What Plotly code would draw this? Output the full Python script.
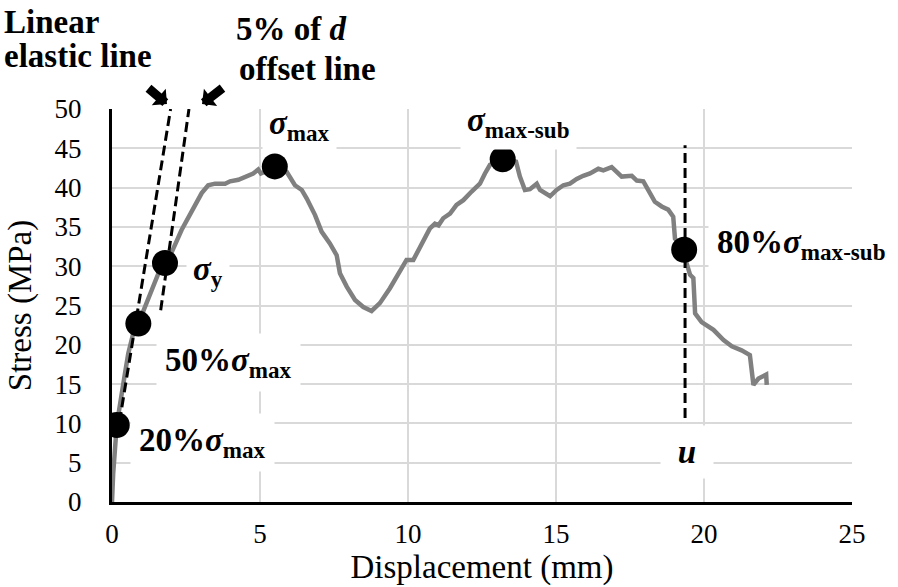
import plotly.graph_objects as go

# ---------------- data ----------------
disp = [0, 0.04, 0.16, 0.27, 0.44, 0.55, 0.72, 0.89, 1.11, 1.34, 1.57, 1.79, 2.02, 2.35, 2.69, 3.03,
        3.25, 3.48, 3.82, 3.99, 4.27, 4.49, 4.77, 4.94, 5.03, 5.28, 5.5, 5.9, 6.18, 6.41, 6.58, 6.86,
        7.08, 7.36, 7.59, 7.70, 7.93, 8.21, 8.49, 8.77, 9.05, 9.39, 9.67, 9.95, 10.18, 10.46, 10.74, 10.91,
        11.03, 11.19, 11.42, 11.64, 11.87, 12.15, 12.43, 12.60, 12.77, 13.2, 13.65, 13.78, 13.95, 14.12,
        14.35, 14.46, 14.63, 14.80, 15.02, 15.25, 15.47, 15.70, 15.92, 16.15, 16.43, 16.60, 16.88, 17.22,
        17.56, 17.73, 17.95, 18.18, 18.34, 18.57, 18.79, 18.96, 19.02, 19.33, 19.41, 19.53, 19.64, 19.70,
        19.92, 20.32, 20.66, 20.94, 21.27, 21.55, 21.60, 21.67, 21.84, 21.95, 22.10, 22.12]
stress = [0, 3.6, 9.8, 12.1, 16.4, 18.9, 21.5, 22.7, 24.8, 27.0, 29.1, 30.4, 31.8, 34.6, 37.1, 39.3,
          40.3, 40.5, 40.5, 40.8, 41.0, 41.4, 41.8, 42.3, 41.8, 42.2, 42.7, 42.0, 40.3, 39.7, 38.6, 36.5,
          34.4, 32.9, 31.4, 29.1, 27.4, 25.7, 24.8, 24.3, 25.3, 27.2, 28.9, 30.8, 30.8, 32.7, 34.8, 35.4,
          35.2, 36.1, 36.7, 37.8, 38.4, 39.5, 40.5, 41.8, 42.9, 43.6, 43.3, 41.4, 39.7, 39.8,
          40.5, 39.7, 39.3, 38.9, 39.7, 40.3, 40.5, 41.1, 41.5, 41.8, 42.4, 42.2, 42.6, 41.4,
          41.5, 40.9, 40.8, 39.3, 38.2, 37.6, 37.2, 36.3, 33.5, 32.1, 30.4, 28.9, 28.5, 24.0,
          22.9, 21.9, 20.6, 19.8, 19.3, 18.7, 17.2, 14.9, 15.7, 15.9, 16.2, 14.9]

# key points: 20%smax, 50%smax, sy, smax, smax-sub, 80%smax-sub
key_x = [0.16, 0.89, 1.79, 5.5, 13.2, 19.33]
key_y = [9.8, 22.7, 30.4, 42.7, 43.6, 32.1]

elastic_x = [0.17, 1.98]
elastic_y = [8.3, 50]
offset_x = [1.645, 2.60]
offset_y = [24.4, 50]
u_x = [19.36, 19.36]
u_y = [10.7, 45.4]

x_ticks = [0, 5, 10, 15, 20, 25]
y_ticks = [0, 5, 10, 15, 20, 25, 30, 35, 40, 45, 50]

FONT = "Liberation Serif"

fig = go.Figure()
fig.add_trace(go.Scatter(x=disp, y=stress, mode="lines",
                         line=dict(color="#808080", width=4.5), showlegend=False))
for xs, ys in [(elastic_x, elastic_y), (offset_x, offset_y), (u_x, u_y)]:
    fig.add_trace(go.Scatter(x=xs, y=ys, mode="lines",
                             line=dict(color="black", width=3, dash="10px,5px"), showlegend=False))
fig.add_trace(go.Scatter(x=key_x, y=key_y, mode="markers",
                         marker=dict(color="black", size=26), showlegend=False))

lab_font = dict(family=FONT, size=33, color="black")
labels = [
    ("<b>20%<i>σ</i><sub>max</sub></b>", 3.07, 7.6, 8),
    ("<b>50%<i>σ</i><sub>max</sub></b>", 3.92, 17.8, 8),
    ("<b><i>σ</i><sub>y</sub></b>", 3.24, 29.3, 6),
    ("<b><i>σ</i><sub>max</sub></b>", 6.35, 47.9, 6),
    ("<b><i>σ</i><sub>max-sub</sub></b>", 13.72, 48.3, 6),
    ("<b>80%<i>σ</i><sub>max-sub</sub></b>", 23.3, 32.8, 8),
]
for txt, x, y, pad in labels:
    fig.add_annotation(x=x, y=y, text=txt, showarrow=False, font=lab_font,
                       bgcolor="white", borderpad=pad, xanchor="center", yanchor="middle")
fig.add_annotation(x=19.43, y=6.4, text="<b><i>u</i></b>", showarrow=False, font=lab_font,
                   bgcolor="white", width=50, height=50)

# texts above the plot (paper coordinates)
top_font = dict(family=FONT, size=33, color="black")
top_texts = [
    ("<b>Linear</b>", -0.1486, 1.222),
    ("<b>elastic line</b>", -0.1486, 1.1349),
    ("<b>5% of <i>d</i></b>", 0.1649, 1.2036),
    ("<b>offset line</b>", 0.1689, 1.1018),
]
for txt, x, y in top_texts:
    fig.add_annotation(xref="paper", yref="paper", x=x, y=y, text=txt, showarrow=False,
                       font=top_font, xanchor="left", yanchor="middle")

# block arrows
fig.add_annotation(xref="paper", yref="paper", x=0.0743, y=1.0127, ax=-20, ay=-17, text="",
                   showarrow=True, arrowhead=1, arrowwidth=9, arrowsize=0.4, arrowcolor="black")
fig.add_annotation(xref="paper", yref="paper", x=0.1216, y=1.0127, ax=22, ay=-17, text="",
                   showarrow=True, arrowhead=1, arrowwidth=9, arrowsize=0.4, arrowcolor="black")

fig.update_layout(
    width=898, height=587, autosize=False,
    margin=dict(l=112, r=46, t=109, b=85),
    paper_bgcolor="white", plot_bgcolor="white",
    font=dict(family=FONT, color="black"),
)
fig.update_xaxes(range=[0, 25], tickvals=x_ticks, showgrid=True, gridcolor="#d9d9d9", gridwidth=1.5,
                 zeroline=False, showline=True, linecolor="black", linewidth=3, automargin=False,
                 ticks="", tickfont=dict(family=FONT, size=27), ticklabelstandoff=6,
                 title=dict(text="Displacement (mm)", font=dict(family=FONT, size=33), standoff=6))
fig.update_yaxes(range=[0, 50], tickvals=y_ticks, showgrid=True, gridcolor="#d9d9d9", gridwidth=1.5,
                 zeroline=False, showline=True, linecolor="black", linewidth=3, automargin=False,
                 ticks="", tickfont=dict(family=FONT, size=27), ticklabelstandoff=22,
                 title=dict(text="Stress (MPa)", font=dict(family=FONT, size=33), standoff=14))

fig.write_html("out.html", config={"displayModeBar": False},
               post_script="document.body.style.margin='0px';")
